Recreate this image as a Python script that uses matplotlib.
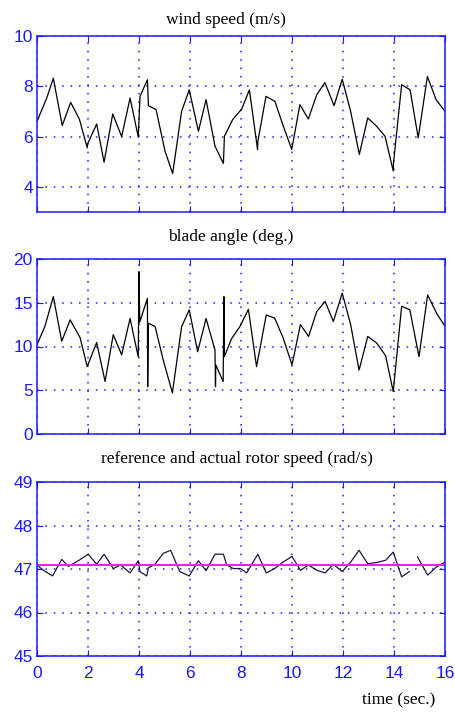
import numpy as np
import matplotlib
matplotlib.use("Agg")
import matplotlib.pyplot as plt

# wind speed (m/s)
t_wind = [0, 0.38, 0.64, 0.99, 1.32, 1.66, 1.97, 1.98, 2.34, 2.63, 2.97, 3.32, 3.65, 3.97, 4.04,
          4.33, 4.37, 4.67, 5.02, 5.32, 5.67, 5.97, 6.33, 6.63, 6.98, 7.31, 7.35, 7.67, 8.03,
          8.33, 8.65, 8.66, 8.98, 9.33, 9.66, 9.99, 10.31, 10.64, 10.97, 11.29, 11.65, 11.97,
          12.3, 12.64, 12.97, 13.32, 13.65, 13.97, 13.98, 14.3, 14.63, 14.95, 15.31, 15.65, 16.0]
wind = [6.6, 7.53, 8.32, 6.44, 7.36, 6.7, 5.55, 5.7, 6.5, 4.98, 6.9, 6.0, 7.53, 5.99, 7.6,
        8.26, 7.23, 7.07, 5.42, 4.53, 7.0, 7.86, 6.21, 7.47, 5.62, 4.93, 6.01, 6.67, 7.1,
        7.86, 5.48, 5.8, 7.6, 7.4, 6.41, 5.49, 7.27, 6.7, 7.66, 8.15, 7.23, 8.28,
        7.0, 5.29, 6.74, 6.41, 6.01, 4.63, 4.95, 8.06, 7.86, 5.95, 8.39, 7.47, 7.0]

# blade angle (deg.)
t_blade = [0, 0.31, 0.64, 0.97, 1.3, 1.69, 1.97, 2.34, 2.67, 2.99, 3.32, 3.65, 3.97, 4.0, 4.03,
           4.33, 4.34, 4.37, 4.63, 4.95, 5.31, 5.67, 5.97, 6.3, 6.63, 6.98, 7.0, 7.01, 7.3,
           7.33, 7.35, 7.63, 7.96, 8.29, 8.61, 8.99, 9.32, 9.65, 10.0, 10.33, 10.65, 10.97,
           11.3, 11.62, 11.97, 12.3, 12.63, 12.97, 13.32, 13.67, 13.97, 14.3, 14.62, 14.98,
           15.32, 15.67, 16.0]
blade = [10.2, 12.3, 15.7, 10.6, 13.05, 11.0, 7.7, 10.45, 6.0, 11.35, 9.05, 13.2, 8.8, 18.55, 12.8,
         15.5, 5.4, 12.65, 12.3, 8.45, 4.7, 12.25, 14.2, 9.4, 13.2, 9.6, 5.4, 7.9, 6.0,
         15.7, 8.85, 10.9, 12.3, 14.25, 7.7, 13.6, 13.25, 11.0, 7.9, 12.5, 11.15, 14.0,
         15.15, 12.85, 16.1, 12.5, 7.3, 11.15, 10.4, 8.95, 4.85, 14.6, 14.2, 8.85,
         15.9, 13.8, 12.3]

# reference and actual rotor speed (rad/s)
t_rotor = [0, 0.25, 0.61, 0.97, 1.23, 1.62, 2.01, 2.34, 2.63, 2.99, 3.28, 3.65, 3.97, 4.04, 4.3,
           4.37, 4.63, 4.95, 5.24, 5.6, 5.97, 6.33, 6.63, 6.98, 7.31, 7.44, 7.7, 7.99, 8.22,
           8.66, 8.99, 9.32, 9.65, 10.0, 10.33, 10.65, 10.97, 11.3, 11.62, 11.97, 12.3, 12.63,
           12.97, 13.32, 13.67, 13.97, 14.3, 14.6, 14.75, 14.92, 15.32, 15.67, 16.0]
rotor = [47.09, 46.97, 46.84, 47.22, 47.06, 47.19, 47.34, 47.11, 47.34, 47.01, 47.09, 46.91, 47.19,
         46.94, 46.84, 47.03, 47.11, 47.36, 47.43, 46.94, 46.84, 47.19, 46.96, 47.34, 47.34,
         47.09, 47.01, 47.01, 46.91, 47.34, 46.91, 47.01, 47.16, 47.29, 46.97, 47.09, 46.97,
         46.91, 47.11, 46.94, 47.16, 47.43, 47.12, 47.15, 47.2, 47.39, 46.82, 46.94, np.nan,
         47.28, 46.86, 47.05, 47.16]
rotor_ref = 47.1

x_ticks = [0, 2, 4, 6, 8, 10, 12, 14, 16]
titles = ["wind speed (m/s)", "blade angle (deg.)", "reference and actual rotor speed (rad/s)"]
ylims = [(3, 10), (0, 20), (45, 49)]
yticks = [[4, 6, 8, 10], [0, 5, 10, 15, 20], [45, 46, 47, 48, 49]]

blue = "#1a1aff"
W, H = 456, 713
fig = plt.figure(figsize=(W / 100, H / 100), dpi=100)

# axes boxes in pixels: (top, bottom)
boxes = [(36, 212), (259, 434), (482, 656)]
left, right = 37, 445
title_x = [226, 231, 237]
title_pad = [8.5, 13, 13.5]

axes = []
for i, (top, bot) in enumerate(boxes):
    ax = fig.add_axes([left / W, 1 - bot / H, (right - left) / W, (bot - top) / H])
    axes.append(ax)
    ax.set_xlim(0, 16)
    ax.set_ylim(*ylims[i])
    ax.set_xticks(x_ticks)
    ax.set_yticks(yticks[i])
    for s in ax.spines.values():
        s.set_color(blue)
        s.set_linewidth(1.1)
    ax.tick_params(direction="in", colors=blue, top=True, right=True, length=4,
                   labelsize=12.5, width=0.8)
    ax.tick_params(axis="y", pad=3)
    ax.tick_params(axis="x", pad=7)
    for lab in ax.get_xticklabels() + ax.get_yticklabels():
        lab.set_family("Liberation Sans")
    if i < 2:
        ax.set_xticklabels([])
    ax.grid(True, color=blue, linestyle=(0, (1, 4.5)), linewidth=1.1)
    ax.set_title(titles[i], family="Liberation Serif", fontsize=12.5,
                 x=(title_x[i] - left) / (right - left), pad=title_pad[i])

axes[0].plot(t_wind, wind, color="black", linewidth=0.9)
axes[1].plot(t_blade, blade, color="black", linewidth=0.9)
axes[2].plot(t_rotor, rotor, color="#1a1a40", linewidth=0.9)
axes[2].axhline(rotor_ref, color="#ff1aff", linewidth=1.5)

fig.text(435 / W, 1 - 704 / H, "time (sec.)", family="Liberation Serif", fontsize=12.5,
         ha="right", va="baseline")

fig.savefig("out.png", dpi=100)
